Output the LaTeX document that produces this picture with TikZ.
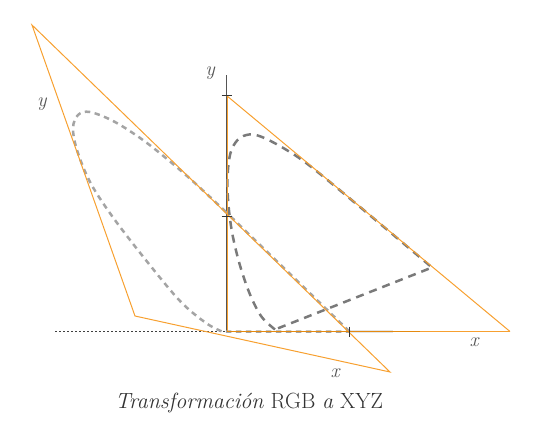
\documentclass[tikz,border=0pt]{standalone}
\usetikzlibrary{calc}
\definecolor{org}{HTML}{F7A030}
\definecolor{dorg}{HTML}{E58A10}
\definecolor{axisc}{HTML}{555555}
\definecolor{lgray}{HTML}{A4A4A4}
\definecolor{dgray}{HTML}{7A7A7A}
\definecolor{txt}{HTML}{333333}
\definecolor{lbl}{HTML}{555555}
\begin{document}
\begin{tikzpicture}[x=1pt,y=-1pt,
  tri/.style={draw=org,line width=1pt,line join=miter},
  axisline/.style={draw=axisc,line width=1pt},
  lcurve/.style={draw=lgray,line width=2.5pt,dash pattern=on 5.5pt off 4.5pt},
  dcurve/.style={draw=dgray,line width=2.5pt,dash pattern=on 8pt off 6pt},
  lab/.style={text=lbl,font=\fontsize{20}{20}\selectfont\itshape},
  tick/.style={draw=black!80,line width=0.8pt}]
\useasboundingbox (0,0) rectangle (550,440);

% coordinates
\coordinate (O) at (226.5,331.5);
\coordinate (Ytop) at (226.5,75);
\coordinate (Y1) at (226.5,95.5);
\coordinate (Yh) at (226.5,216.5);
\coordinate (Xh) at (349.5,331.5);
\coordinate (X1) at (510,331.5);
\coordinate (Xm) at (420,331.5);
\coordinate (Xg) at (393,331.5);
\coordinate (OrT) at (227.5,95.5);
\coordinate (OrB) at (227.5,331.5);
\coordinate (LA) at (32,25);
\coordinate (LB) at (135,316);
\coordinate (LC) at (390,372);
\coordinate (Dl) at (55,331.5);

% dotted extension of x axis
\draw[draw=black!75,line width=0.7pt,dash pattern=on 2pt off 2pt] (Dl) -- (O);

% faint light segment under the axis
\draw[draw=black!10,line width=2.5pt] (Xh) -- (Xg);

% y axis
\draw[axisline] (Ytop) -- (O);

% left transformed curve (light gray)
\draw[lcurve] (Xh) -- (226,212) plot[smooth,tension=0.55] coordinates {
 (226,212) (187,176) (147,143) (115,122) (90,112) (78,115) (73,128)
 (77,150) (90,182) (112,216) (145,259) (180,301) (206,323) (222,331.5)}
 -- (Xh);

% right xy locus (dark gray)
\draw[dcurve] plot[smooth,tension=0.55] coordinates {
 (275,329.5) (261,316) (249,292) (239,262) (232,232) (228.3,203)
 (227.5,177) (230.5,153) (238,139.5) (249,134.5) (262,137) (285,149)
 (312,167.5) (372,217) (432,267.5)}
 -- cycle;

% left triangle
\draw[tri] (LA) -- (LB) -- (LC) -- cycle;

% right triangle
\draw[tri] (OrT) -- (OrB);
\draw[tri] (Y1) -- (X1);
\draw[tri] (O) -- (X1);
\draw[draw=dorg,line width=1pt] (O) -- (Xm);

% ticks
\draw[tick] ($(Y1)+(-5,0)$) -- ($(Y1)+(5,0)$);
\draw[tick] ($(Yh)+(-5,0)$) -- ($(Yh)+(5,0)$);
\draw[tick] ($(Xh)+(0,-5)$) -- ($(Xh)+(0,5)$);

% labels
\node[lab] (ly1) at (210,73) {y};
\node[lab] (ly2) at (42,104) {y};
\node[lab] (lx1) at (474,342) {x};
\node[lab] (lx2) at (335,373) {x};

\node[text=txt,font=\fontsize{22}{22}\selectfont] (cap) at (249,403)
  {\textit{Transformación} RGB \textit{a} XYZ};
\end{tikzpicture}
\end{document}
